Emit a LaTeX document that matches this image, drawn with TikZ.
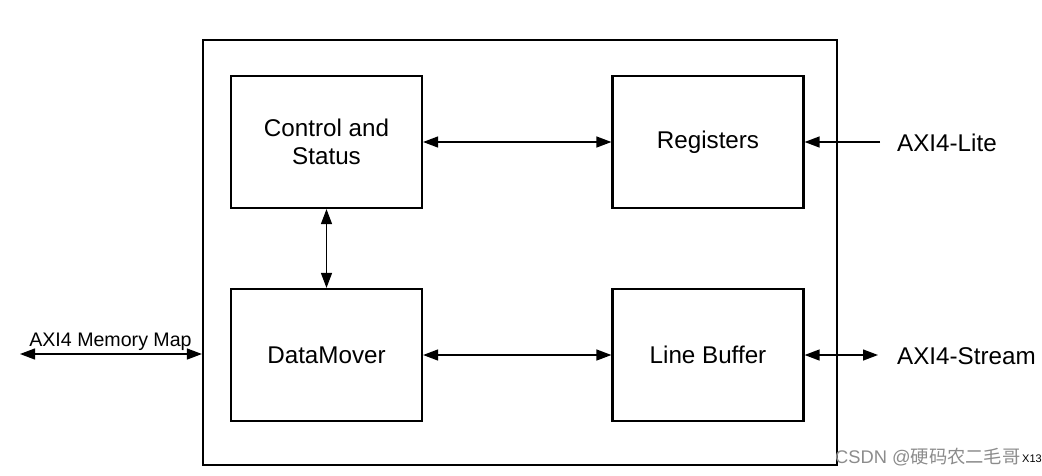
\documentclass[tikz,border=0pt]{standalone}
\usepackage{fontspec}
\setmainfont{Liberation Sans}
\newfontfamily\cjk{Noto Sans CJK SC}
\usetikzlibrary{arrows.meta}
\begin{document}
\begin{tikzpicture}[x=1pt,y=-1pt,
  blk/.style={draw, line width=2.2pt, minimum width=191pt, minimum height=132pt, font=\fontsize{24.2}{28}\selectfont, align=center, inner sep=0pt},
  conn/.style={line width=1.3pt, {Triangle[length=15pt,width=11pt]}-{Triangle[length=15pt,width=11pt]}},
  oneway/.style={line width=1.3pt, -{Triangle[length=15pt,width=11pt]}},
  lbl/.style={font=\fontsize{24.2}{28}\selectfont, anchor=west, inner sep=0pt},
  wm/.style={font=\fontsize{18.3}{20}\selectfont, text=black!45, anchor=west, inner sep=0pt}]
\useasboundingbox (0,0) rectangle (1042,475);
\fill[white] (0,0) rectangle (1042,475);
\node[draw, line width=2.2pt, minimum width=634pt, minimum height=425pt, inner sep=0pt] (outer) at (520,252.5) {};
\node[blk] (cs) at (326.5,142) {Control and\\Status};
\node[blk] (reg) at (708,142) {\raisebox{-1pt}{Registers}};
\node[blk] (dm) at (326.5,355) {DataMover};
\node[blk] (lb) at (708,355) {Line Buffer};
\draw[conn] (cs.east) -- (reg.west);
\draw[conn] (cs.south) -- (dm.north);
\draw[conn] (dm.east) -- (lb.west);
\coordinate (litefree) at (880,142);
\coordinate (streamfree) at (878,355);
\coordinate (mmfree) at (20,354);
\draw[oneway] (litefree) -- (reg.east);
\draw[conn] (lb.east) -- (streamfree);
\draw[conn] (mmfree) -- (mmfree -| outer.west);
\node[lbl] (litelbl) at (897,143) {AXI4-Lite};
\node[lbl] (streamlbl) at (897,356) {AXI4-Stream};
\node[font=\fontsize{19.6}{22}\selectfont, inner sep=0pt] (mmlbl) at (110.5,342) {AXI4 Memory Map};
\node[wm] (wmark) at (835,457) {CSDN @{\cjk 硬码农二毛哥}};
\node[font=\fontsize{11}{12}\selectfont, anchor=west, inner sep=0pt] (xid) at (1022,459) {X13};
\end{tikzpicture}
\end{document}
